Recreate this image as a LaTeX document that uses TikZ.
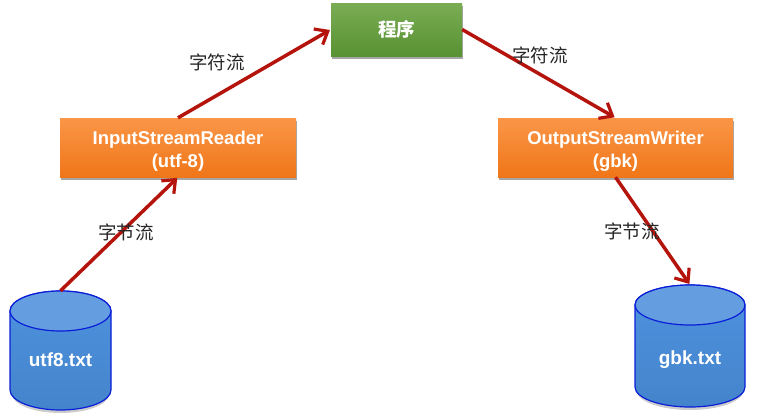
\documentclass[tikz,border=0pt]{standalone}
\usepackage{fontspec}
\setmainfont{Liberation Sans}
\newfontfamily\cjk{Noto Sans CJK SC}
\usetikzlibrary{shadows,arrows.meta}
\definecolor{arrowred}{HTML}{B5140C}
\definecolor{greentop}{HTML}{7AAC54}
\definecolor{greenbot}{HTML}{589232}
\definecolor{orangetop}{HTML}{FA9648}
\definecolor{orangebot}{HTML}{F07618}
\definecolor{dbtop}{HTML}{4E92DE}
\definecolor{dbbot}{HTML}{4484CC}
\definecolor{dblid}{HTML}{649EE0}
\definecolor{dbline}{HTML}{0A1ED7}
\tikzset{
  x=1pt,y=-1pt,
  procbox/.style={rectangle,inner sep=0pt,align=center,text=white,font=\bfseries\fontsize{18.5}{23}\selectfont,
    drop shadow={shadow xshift=1pt,shadow yshift=-2.5pt,opacity=.35,fill=black}},
  greenbox/.style={procbox,top color=greentop,bottom color=greenbot},
  orangebox/.style={procbox,top color=orangetop,bottom color=orangebot},
  dbanchor/.style={rectangle,inner sep=0pt,text=white,font=\bfseries\fontsize{19}{22}\selectfont},
  flow/.style={draw=arrowred,line width=3.5pt,-{Straight Barb[length=11pt,width=18pt,line width=3.2pt]},shorten >=1pt},
  flowlabel/.style={text=black!85,font=\cjk\fontsize{18.5}{22}\selectfont,inner sep=0pt},
}
\newcommand{\dbshape}[4]{% left, right, top, bottom
  \pgfmathsetmacro{\cx}{(#1+#2)/2}\pgfmathsetmacro{\rx}{(#2-#1)/2}
  \fill[black,opacity=.2] (#1+2,#3+22) -- (#1+2,#4-16) arc[start angle=180,end angle=360,x radius=\rx-2,y radius=-19] -- cycle;
  \shade[top color=dbtop,bottom color=dbbot,draw=dbline,line width=1.2pt]
    (#1,#3+20) -- (#1,#4-20) arc[start angle=180,end angle=360,x radius=\rx,y radius=-20] -- (#2,#3+20)
    arc[start angle=0,end angle=180,x radius=\rx,y radius=-20] -- cycle;
  \fill[dblid,draw=dbline,line width=1.2pt]
    (\cx,#3+20) ellipse[x radius=\rx,y radius=20];
}
\begin{document}
\begin{tikzpicture}
\useasboundingbox (0,0) rectangle (758,418);
\dbshape{10}{111}{291}{410}
\dbshape{635}{745}{285}{407}
\node[greenbox,minimum width=131pt,minimum height=53pt] (prog) at (396.5,29.5) {\cjk\bfseries 程序};
\node[orangebox,minimum width=236pt,minimum height=59pt] (reader) at (178,147.5) {\rule{0pt}{20pt}InputStreamReader\\(utf-8)};
\node[orangebox,minimum width=235pt,minimum height=59pt] (writer) at (615.5,147.5) {\rule{0pt}{20pt}OutputStreamWriter\\(gbk)};
\node[dbanchor,minimum width=101pt,minimum height=119pt] (src) at (60.5,350.5) {};
\node[dbanchor,minimum width=110pt,minimum height=122pt] (dst) at (690,346) {};
\node[dbanchor] (srct) at (60.5,360) {utf8.txt};
\node[dbanchor] (dstt) at (690,360) {gbk.txt};
\draw[flow] (src.north) -- (reader.south);
\draw[flow] (reader.north) -- (prog.west);
\draw[flow] (prog.east) -- (writer.north);
\draw[flow] (writer.south) -- (dst.north);
\node[flowlabel] (l1) at (217,62) {字符流};
\node[flowlabel] (l2) at (540,55) {字符流};
\node[flowlabel] (l3) at (126,232) {字节流};
\node[flowlabel] (l4) at (632,231) {字节流};
\end{tikzpicture}
\end{document}
